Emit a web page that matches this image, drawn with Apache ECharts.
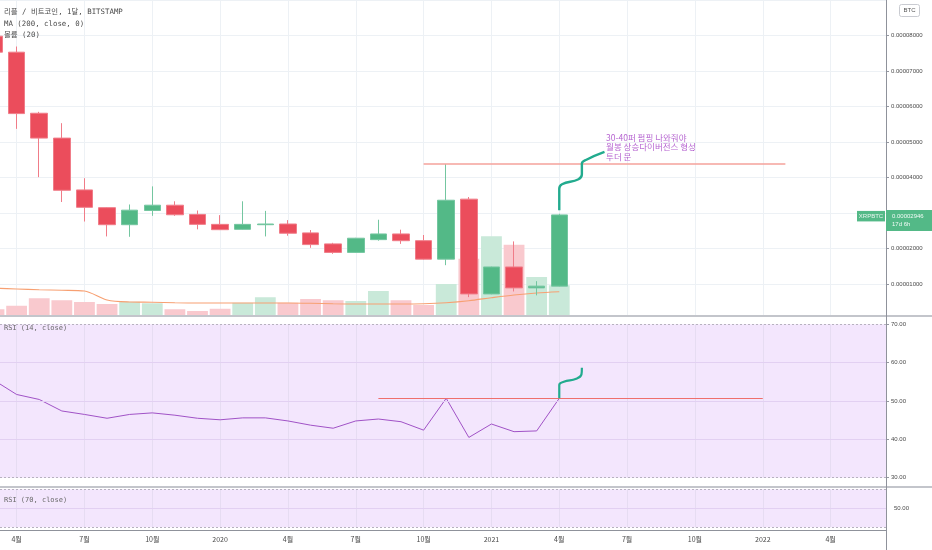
<!DOCTYPE html>
<html><head><meta charset="utf-8">
<script src="https://cdn.jsdelivr.net/npm/echarts@6/dist/echarts.min.js"></script>
<style>html,body{margin:0;padding:0;background:#fff}#c{width:932px;height:550px}</style>
</head><body><div id="c"></div>
<script>
// ---------- data ----------
const months = ['2019-03','2019-04','2019-05','2019-06','2019-07','2019-08','2019-09','2019-10','2019-11','2019-12',
  '2020-01','2020-02','2020-03','2020-04','2020-05','2020-06','2020-07','2020-08','2020-09','2020-10','2020-11','2020-12',
  '2021-01','2021-02','2021-03','2021-04'];
const openP  = [0.0000798,0.0000753,0.0000581,0.0000511,0.0000365,0.0000315,0.0000267,0.0000307,0.0000322,0.0000296,
  0.0000268,0.0000254,0.0000267,0.0000269,0.0000244,0.0000213,0.0000189,0.0000225,0.0000241,0.0000222,0.0000170,0.0000339,
  0.0000072,0.0000148,0.0000089,0.0000094];
const closeP = [0.0000753,0.0000580,0.0000511,0.0000364,0.0000316,0.0000267,0.0000308,0.0000322,0.0000295,0.0000268,
  0.0000253,0.0000268,0.0000269,0.0000243,0.0000211,0.0000189,0.0000229,0.0000241,0.0000222,0.0000170,0.0000336,0.0000072,
  0.0000148,0.0000089,0.0000094,0.00002946];
const lowP   = [0.0000745,0.0000537,0.0000401,0.0000331,0.0000276,0.0000234,0.0000233,0.0000292,0.0000292,0.0000254,
  0.0000252,0.0000253,0.0000234,0.0000236,0.0000202,0.0000185,0.0000188,0.0000222,0.0000213,0.0000169,0.0000153,0.0000063,
  0.0000071,0.0000079,0.0000068,0.0000093];
const highP  = [0.0000805,0.0000769,0.0000585,0.0000553,0.0000398,0.0000316,0.0000324,0.0000375,0.0000333,0.0000307,
  0.0000294,0.0000333,0.0000306,0.0000280,0.0000252,0.0000216,0.0000230,0.0000281,0.0000253,0.0000238,0.0000438,0.0000345,
  0.0000149,0.0000220,0.0000108,0.0000298];
const volume   = [23,37,67,59,52,44,53,47,23,16,25,49,71,49,64,59,56,96,59,40,124,225,315,281,152,119];
const volumeMA = [107,104,101,99,96,60,52,51,49,48,48,48,48,48,47,45,44,44,44,45,49,57,69,80,88,93];
const rsi14    = [55.4,51.7,50.4,47.4,46.5,45.5,46.5,46.9,46.3,45.5,45.1,45.6,45.6,44.8,43.7,42.9,44.8,45.3,44.6,42.4,
  50.7,40.5,44.0,42.0,42.2,50.7];
const lastPrice = 0.00002946;
const countdown = '17d 6h';
const supportLevel = 0.00003397;
const targetLevel = 0.0000439;
const targetFrom = '2020-10', targetTo = '2022-02';
const rsiLevel = 50.7;
const rsiLevelFrom = '2020-08', rsiLevelTo = '2022-01';
const rsiBands = [30, 70];
const rsiGrid = [40, 50, 60];
const axisMonths = ['2019-04','2019-07','2019-10','2020-01','2020-04','2020-07','2020-10','2021-01','2021-04','2021-07','2021-10','2022-01','2022-04'];
// hand-drawn arrows: [month index, value]
const arrowPrice = [[25,0.00003075],[25,0.0000368],[25.12,0.0000381],[25.85,0.0000395],[26.0,0.0000409],[26.0,0.0000439],[26.2,0.0000450],[27.0,0.0000472]];
const arrowRsi = [[25,50.7],[25,54.2],[25.2,55.0],[25.75,55.8],[25.98,56.9],[26.0,58.7]];
const noteLines = ['30-40퍼 펌핑 나와줘야','월봉 상승다이버전스 형성','투더 문'];
const notePos = [27.07, 0.0000486];
const titleLines = ['리플 / 비트코인, 1달, BITSTAMP','MA (200, close, 0)','볼륨 (20)'];

// ---------- helpers ----------
function monthIdx(s){const [y,m]=s.split('-').map(Number);return (y-2019)*12+(m-3);}
const FONT = "'Liberation Sans','Noto Sans CJK KR',sans-serif";
const KFONT = "'Noto Sans CJK KR','Liberation Sans',sans-serif";
const MONO = "'DejaVu Sans Mono','Noto Sans CJK KR',monospace";
const GREEN='#53b987', RED='#eb4d5c';
const X0=0.2654, X1=39.45, GL=0, GR=46;
const txt='#4a4a4a';
const tickVals = axisMonths.map(monthIdx);

function xAx(grid, extra){return Object.assign({type:'value',gridIndex:grid,min:X0,max:X1,
  axisLine:{show:false,onZero:false},axisTick:{show:false,customValues:tickVals},axisLabel:{show:false,customValues:tickVals},splitLine:{show:false}},extra||{});}

const chart = echarts.init(document.getElementById('c'));
const option = {
  animation:false,
  backgroundColor:'#ffffff',
  grid:[
    {left:GL,right:GR,top:-4,height:288},
    {left:GL,right:GR,top:0,height:315},
    {left:GL,right:GR,top:324.3,height:153.4,show:true,backgroundColor:'#f3e6fd',borderWidth:0},
    {left:GL,right:GR,top:489.3,height:38,show:true,backgroundColor:'#f3e6fd',borderWidth:0}
  ],
  xAxis:[
    xAx(0),
    xAx(1,{splitLine:{show:true,lineStyle:{color:'#edf1f5',width:1}}}),
    xAx(2,{splitLine:{show:true,lineStyle:{color:'#e6dcf2',width:1}}}),
    xAx(3,{splitLine:{show:true,lineStyle:{color:'#e6dcf2',width:1}},
      axisLabel:{show:true,customValues:tickVals,margin:9,fontSize:7,color:txt,fontFamily:KFONT,
        formatter:function(v){const i=Math.round(v);
          const m=((i+2)%12+12)%12+1;const y=2019+Math.floor((i+2)/12);return m===1?String(y):m+'월';}}})
  ],
  yAxis:[
    {type:'value',gridIndex:0,position:'right',min:0.00001,max:0.00009,interval:0.00001,
      axisLine:{show:false,onZero:false},axisTick:{show:true,length:3,lineStyle:{color:'#9598a1'}},
      axisLabel:{fontSize:6,color:txt,margin:5,fontFamily:FONT,showMaxLabel:false,formatter:v=>v.toFixed(8)},
      splitLine:{show:true,lineStyle:{color:'#edf1f5',width:1}}},
    {type:'value',gridIndex:1,min:0,max:1260,show:false,axisLine:{onZero:false},splitLine:{show:false}},
    {type:'value',gridIndex:2,position:'right',min:30,max:70,interval:10,
      axisLine:{show:false,onZero:false},axisTick:{show:true,length:3,lineStyle:{color:'#9598a1'}},
      axisLabel:{fontSize:6,color:txt,margin:5,fontFamily:FONT,formatter:v=>v.toFixed(2)},splitLine:{show:false}},
    {type:'value',gridIndex:3,position:'right',min:30,max:70,interval:10,
      axisLine:{show:false,onZero:false},axisTick:{show:false},
      axisLabel:{fontSize:6,color:txt,margin:8,fontFamily:FONT,showMinLabel:false,showMaxLabel:false,formatter:v=>Math.abs(v-50)<1e-6?'50.00':''},splitLine:{show:false}}
  ],
  series:[
    {type:'bar',xAxisIndex:1,yAxisIndex:1,barWidth:'92%',z:1,silent:true,
      data:volume.map((v,i)=>({value:[i,v],itemStyle:{color:closeP[i]>=openP[i]?'#c9e9d9':'#f9c9ce'}}))},
    {type:'line',xAxisIndex:1,yAxisIndex:1,z:2,silent:true,symbol:'none',smooth:0.3,
      lineStyle:{color:'#f7a072',width:1.2},data:volumeMA.map((v,i)=>[i,v])},
    {type:'candlestick',xAxisIndex:0,yAxisIndex:0,z:3,clip:false,barWidth:17,silent:true,
      itemStyle:{color:GREEN,color0:RED,borderColor:'#74c6a0',borderColor0:'#f07c88',borderWidth:1},
      data:months.map((m,i)=>[i,openP[i],closeP[i],lowP[i],highP[i]]),
      markLine:{symbol:'none',silent:true,label:{show:false},animation:false,
        data:[
          {yAxis:supportLevel,lineStyle:{color:'#f5a29b',width:2,type:'solid'}},
          [{coord:[monthIdx(targetFrom),targetLevel],lineStyle:{color:'#f5a29b',width:1.6,type:'solid'}},
           {coord:[monthIdx(targetTo),targetLevel]}],
          {yAxis:lastPrice,lineStyle:{color:'#8fd3b2',width:1,type:'dotted'}}
        ]}},
    {type:'line',xAxisIndex:0,yAxisIndex:0,z:5,silent:true,symbol:'none',smooth:0.45,
      lineStyle:{color:'#22ab8e',width:2.4},data:arrowPrice},
    {type:'scatter',xAxisIndex:0,yAxisIndex:0,z:6,silent:true,symbolSize:0,data:[notePos],
      label:{show:true,position:'right',distance:0,formatter:noteLines.join('\n'),color:'#a33cc4',
        fontSize:8.5,lineHeight:9.4,fontFamily:KFONT,align:'left'}},
    {type:'line',xAxisIndex:2,yAxisIndex:2,z:3,silent:true,symbol:'none',
      lineStyle:{color:'#a052c6',width:1},data:rsi14.map((v,i)=>[i,v]),
      markLine:{symbol:'none',silent:true,label:{show:false},
        data:[
          ...rsiGrid.map(v=>({yAxis:v,lineStyle:{color:'#e2d0f2',width:1,type:'solid'}})),
          ...rsiBands.map(v=>({yAxis:v,lineStyle:{color:'#b7b2bf',width:1,type:[2,2]}})),
          [{coord:[monthIdx(rsiLevelFrom),rsiLevel],lineStyle:{color:'#ef6f6c',width:1.2,type:'solid'}},
           {coord:[monthIdx(rsiLevelTo),rsiLevel]}]
        ]}},
    {type:'line',xAxisIndex:2,yAxisIndex:2,z:5,silent:true,symbol:'none',smooth:0.45,
      lineStyle:{color:'#22ab8e',width:2.2},data:arrowRsi},
    {type:'line',xAxisIndex:3,yAxisIndex:3,silent:true,symbol:'none',data:[],
      markLine:{symbol:'none',silent:true,label:{show:false},
        data:[
          {yAxis:50,lineStyle:{color:'#e2d0f2',width:1,type:'solid'}},
          ...rsiBands.map(v=>({yAxis:v,lineStyle:{color:'#b7b2bf',width:1,type:[2,2]}}))
        ]}}
  ]
};
chart.setOption(option);

// ---------- UI overlays (legend texts, separators, price tag) ----------
const py = chart.convertToPixel({xAxisIndex:0,yAxisIndex:0},[1,lastPrice])[1];
const g = [];
titleLines.forEach((t,i)=>g.push({type:'text',left:4,top:8.5+i*11.5,z:50,
  style:{text:t,fill:txt,font:"7.4px "+MONO}}));
g.push({type:'text',left:4,top:325,z:50,style:{text:'RSI (14, close)',fill:'#6a6a6a',font:"7px "+MONO}});
g.push({type:'text',left:4,top:497,z:50,style:{text:'RSI (70, close)',fill:'#6a6a6a',font:"7px "+MONO}});
g.push({type:'rect',shape:{x:0,y:315,width:932,height:2},style:{fill:'#c3c5cb'},z:40});
g.push({type:'rect',shape:{x:0,y:486,width:932,height:2},style:{fill:'#c3c5cb'},z:40});
g.push({type:'line',shape:{x1:886.5,y1:0,x2:886.5,y2:550},style:{stroke:'#8f929b',lineWidth:1},z:41});
g.push({type:'line',shape:{x1:0,y1:530.5,x2:886,y2:530.5},style:{stroke:'#8f929b',lineWidth:1},z:41});
g.push({type:'rect',shape:{x:899.5,y:4.5,width:20,height:12,r:2},style:{fill:'#fff',stroke:'#c9cbd1',lineWidth:1},z:42});
g.push({type:'text',x:909.5,y:10.5,z:43,style:{text:'BTC',fill:'#555',font:"6px "+FONT,align:'center',verticalAlign:'middle'}});
g.push({type:'rect',shape:{x:857,y:py-4,width:28,height:10.5},style:{fill:GREEN},z:44});
g.push({type:'text',x:871,y:py+1.3,z:45,style:{text:'XRPBTC',fill:'#e9f6ef',font:"6px "+FONT,align:'center',verticalAlign:'middle'}});
g.push({type:'rect',shape:{x:886,y:py-5,width:46,height:21},style:{fill:GREEN},z:44});
g.push({type:'text',x:892,y:py+1.6,z:45,style:{text:lastPrice.toFixed(8),fill:'#f2fbf6',font:"6px "+FONT,verticalAlign:'middle'}});
g.push({type:'text',x:892,y:py+9.8,z:45,style:{text:countdown,fill:'#f2fbf6',font:"6px "+FONT,verticalAlign:'middle'}});
chart.setOption({graphic:g});
</script></body></html>
